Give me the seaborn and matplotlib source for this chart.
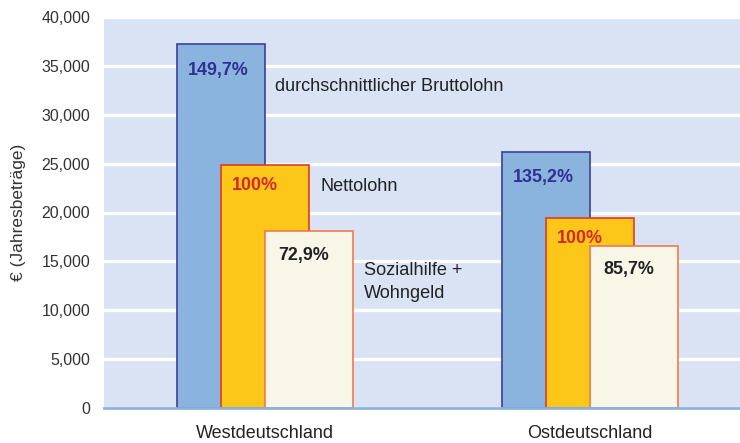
import numpy as np
import pandas as pd
import matplotlib.pyplot as plt
import seaborn as sns

# values (EUR per year)
regions = ["Westdeutschland", "Ostdeutschland"]
brutto = [37200, 26200]
netto = [24850, 19430]
sozial = [18100, 16600]
brutto_pct = ["149,7%", "135,2%"]
netto_pct = ["100%", "100%"]
sozial_pct = ["72,9%", "85,7%"]
series_names = ["durchschnittlicher Bruttolohn", "Nettolohn", "Sozialhilfe +\nWohngeld"]

sns.set_theme(style="white")
plt.rcParams['font.family'] = ['Liberation Sans', 'DejaVu Sans']

fig = plt.figure(figsize=(7.4, 4.43), dpi=100)
ax = fig.add_axes([104/740, 1 - 408/443, 1 - 104/740, (408 - 17)/443])
ax.set_facecolor('#d9e3f3')

pos = np.arange(len(regions))
w = 0.2708
off = w / 2

# fill, edge, label colour, label offset (px), side-text offset (px)
styles = [
    ('#8ab4de', '#3b3f9c', '#2e3192', (-3, -26), (10, -42)),
    ('#fdc71a', '#de3b2a', '#d22a2a', (-10, -20), (12, -21)),
    ('#f8f6e7', '#ee7a4e', '#222222', (-5, -24), (11, -51)),
]
values = [brutto, netto, sozial]
pcts = [brutto_pct, netto_pct, sozial_pct]

for i, (vals, pc, st) in enumerate(zip(values, pcts, styles)):
    fill, edge, lc, loff, toff = st
    xs = pos + (i - 1) * off
    df = pd.DataFrame({'x': xs, 'y': vals})
    sns.barplot(data=df, x='x', y='y', native_scale=True, width=w, color=fill,
                saturation=1, edgecolor=edge, linewidth=1.2, ax=ax, zorder=2 + i)
    for x, v, t in zip(xs, vals, pc):
        ax.annotate(t, xy=(x, v), xytext=loff, textcoords='offset pixels',
                    ha='center', va='center', fontsize=12.9, fontweight='bold',
                    color=lc, zorder=10)
    # series name next to the west bars
    ax.annotate(series_names[i], xy=(xs[0] + w / 2, vals[0]), xytext=toff,
                textcoords='offset pixels', ha='left', va='center',
                fontsize=13.1, color='#222222', linespacing=1.4, zorder=10)

ax.set_xlim(-0.495, 1.4615)
ax.set_ylim(0, 40000)
ax.set_yticks(np.arange(0, 40001, 5000))
ax.set_yticklabels([f"{v:,}" for v in range(0, 40001, 5000)])
ax.set_xticks(pos)
ax.set_xticklabels(regions)
ax.grid(axis='y', color='white', linewidth=2.4)
ax.set_axisbelow(True)
ax.tick_params(axis='y', length=0, pad=10, labelsize=11.5, labelcolor='#333333')
ax.tick_params(axis='x', length=0, pad=12.5, labelsize=13, labelcolor='#222222')
ax.set_xlabel('')
ax.set_ylabel('€ (Jahresbeträge)', fontsize=12.5, color='#333333', labelpad=11)
for s in ['top', 'right', 'left']:
    ax.spines[s].set_visible(False)
ax.spines['bottom'].set_color('#8ab4de')
ax.spines['bottom'].set_linewidth(2)
ax.spines['bottom'].set_zorder(6)

fig.savefig('out.png', dpi=100)
